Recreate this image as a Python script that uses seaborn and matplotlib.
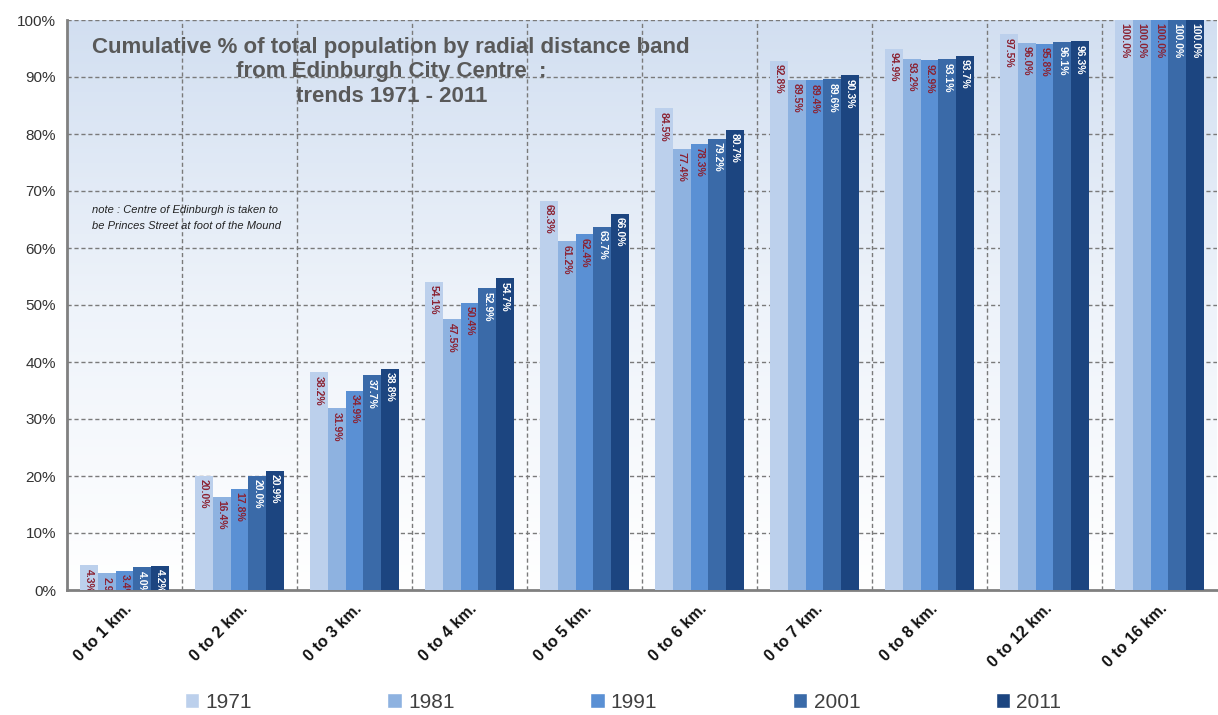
import numpy as np
import pandas as pd
import matplotlib.pyplot as plt
import seaborn as sns
from matplotlib.patches import Patch
from matplotlib.colors import LinearSegmentedColormap

bands = ["0 to 1 km.", "0 to 2 km.", "0 to 3 km.", "0 to 4 km.", "0 to 5 km.",
         "0 to 6 km.", "0 to 7 km.", "0 to 8 km.", "0 to 12 km.", "0 to 16 km."]
years = ["1971", "1981", "1991", "2001", "2011"]

pct_1971 = [4.3, 20.0, 38.2, 54.1, 68.3, 84.5, 92.8, 94.9, 97.5, 100.0]
pct_1981 = [2.9, 16.4, 31.9, 47.5, 61.2, 77.4, 89.5, 93.2, 96.0, 100.0]
pct_1991 = [3.4, 17.8, 34.9, 50.4, 62.4, 78.3, 89.4, 92.9, 95.8, 100.0]
pct_2001 = [4.0, 20.0, 37.7, 52.9, 63.7, 79.2, 89.6, 93.1, 96.1, 100.0]
pct_2011 = [4.2, 20.9, 38.8, 54.7, 66.0, 80.7, 90.3, 93.7, 96.3, 100.0]

colours = ["#bcd0ec", "#8eb2e0", "#5a90d4", "#3a6aa8", "#1c4580"]
label_colours = ["#8b2232", "#8b2232", "#8b2232", "white", "white"]

df = pd.DataFrame({"band": bands * 5,
                   "year": np.repeat(years, len(bands)),
                   "pct": pct_1971 + pct_1981 + pct_1991 + pct_2001 + pct_2011})

sns.set_style("white")
plt.rcParams["font.family"] = ["Liberation Sans", "DejaVu Sans"]

fig = plt.figure(figsize=(12.18, 7.15), dpi=100)
ax = fig.add_axes([67 / 1218, 1 - 590 / 715, 1150 / 1218, 570 / 715])

# light blue gradient behind the plot
grad = LinearSegmentedColormap.from_list("bg", ["white", "#eef3fa", "#d2dff1"])
ax.imshow(np.linspace(0, 1, 256).reshape(-1, 1)[::-1], cmap=grad, aspect="auto",
          extent=[0, 1, 0, 1], transform=ax.transAxes, zorder=0)

sns.barplot(data=df, x="band", y="pct", hue="year", palette=colours,
            saturation=1, width=0.77, gap=0, linewidth=0, edgecolor="none",
            ax=ax, zorder=3)
ax.legend_.remove()

for cont, lc in zip(ax.containers, label_colours):
    for bar in cont:
        h = bar.get_height()
        ax.text(bar.get_x() + bar.get_width() / 2, h - 0.6, f"{h:.1f}%",
                rotation=-90, ha="center", va="top", fontsize=7.5,
                fontweight="bold", color=lc, zorder=4, clip_on=True)

ax.set_xlim(-0.5, len(bands) - 0.5)
ax.set_ylim(0, 100)
ax.set_yticks(range(0, 101, 10))
ax.set_yticklabels([f"{v}%" for v in range(0, 101, 10)], fontsize=11, color="#333333")
ax.set_xticks(range(len(bands)))
ax.set_xticklabels(bands, rotation=45, ha="right", rotation_mode="anchor",
                   fontsize=11.5, fontweight="bold", color="#111111")
ax.tick_params(axis="x", length=0, pad=8)
ax.tick_params(axis="y", length=4, color="#808080", pad=4)
ax.set_xticks(np.arange(-0.5, len(bands)), minor=True)
ax.tick_params(axis="x", which="minor", length=5, color="#808080", width=1.5)
ax.set_xlabel("")
ax.set_ylabel("")

ax.grid(False)
for v in range(10, 101, 10):
    ax.axhline(v, color="#7a7a7a", lw=1, ls=(0, (3, 2)), zorder=1)
for b in np.arange(0.5, len(bands) - 0.5):
    ax.axvline(b, color="#7a7a7a", lw=1, ls=(0, (3, 2)), zorder=1)

for s in ["top", "right"]:
    ax.spines[s].set_visible(False)
for s in ["left", "bottom"]:
    ax.spines[s].set_color("#808080")
    ax.spines[s].set_linewidth(2)

ax.text(0.282, 0.971, "Cumulative % of total population by radial distance band\n"
        "from Edinburgh City Centre  :\ntrends 1971 - 2011",
        transform=ax.transAxes, ha="center", va="top", fontsize=16,
        fontweight="bold", color="#595959", linespacing=1.22, zorder=5)

ax.text(0.022, 0.675, "note : Centre of Edinburgh is taken to\nbe Princes Street at foot of the Mound",
        transform=ax.transAxes, ha="left", va="top", fontsize=8, style="italic",
        color="#222222", linespacing=1.7, zorder=5)

handles = [Patch(facecolor=c) for c in colours]
fig.legend(handles, years, loc="center", bbox_to_anchor=(623 / 1218, 1 - 702 / 715),
           ncol=5, frameon=False, fontsize=15, handlelength=0.7, handleheight=0.7,
           handletextpad=0.3, columnspacing=6.5, labelcolor="#404040")

fig.savefig("out.png", dpi=100)
